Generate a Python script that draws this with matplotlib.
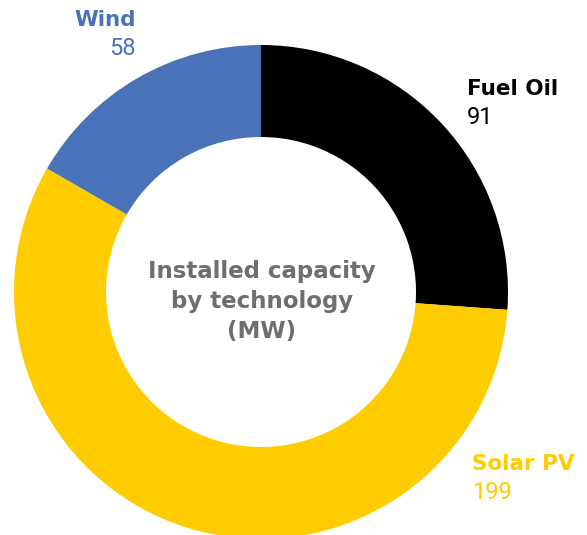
import matplotlib.pyplot as plt

plt.rcParams["font.family"] = ["Roboto", "DejaVu Sans"]

technologies = ["Fuel Oil", "Solar PV", "Wind"]
capacity_mw = [91, 199, 58]
colors = ["#000000", "#FFCC00", "#4A72B8"]
center_title = "Installed capacity\nby technology\n(MW)"

W, H = 587, 535
cx, cy, R = 261, 292, 247   # pixel centre and outer radius
ring = 92 / 247
bold_font = ["DejaVu Sans"]

fig = plt.figure(figsize=(W / 100, H / 100), dpi=100)
ax = fig.add_axes([0, 0, 1, 1])
ax.pie(capacity_mw, colors=colors, startangle=90, counterclock=False,
       radius=1, wedgeprops={"width": ring, "linewidth": 0})
ax.set_aspect("auto")
ax.set_xlim(-cx / R, (W - cx) / R)
ax.set_ylim(-(H - cy) / R, cy / R)
ax.axis("off")


def px(x, y):
    return x / W, 1 - y / H


label_pos = {
    "Fuel Oil": (467, 95, "left"),
    "Solar PV": (472, 470, "left"),
    "Wind": (136, 26, "right"),
}
for name, val, col in zip(technologies, capacity_mw, colors):
    x, y, ha = label_pos[name]
    fig.text(*px(x, y), name, color=col, fontsize=15.5, fontweight="bold",
             family=bold_font, ha=ha, va="baseline")
    fig.text(*px(x, y + 29), str(val), color=col, fontsize=17,
             ha=ha, va="baseline")

for i, line in enumerate(center_title.split("\n")):
    fig.text(*px(262, 278 + 30 * i), line, color="#6D6E71", fontsize=16.5,
             fontweight="bold", family=bold_font, ha="center", va="baseline")

fig.savefig("out.png", dpi=100)
